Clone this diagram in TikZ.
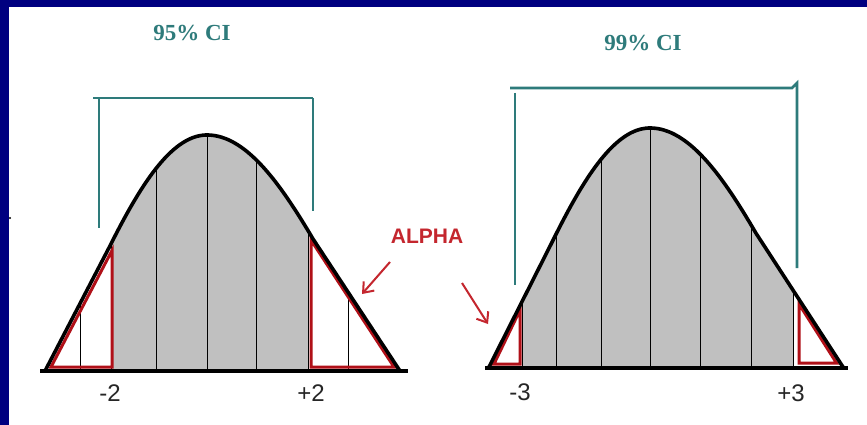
\documentclass[tikz,border=0pt]{standalone}
\usepackage{fontspec}
\setmainfont{Liberation Serif}
\newfontfamily\arialfont{Liberation Sans}
\usetikzlibrary{arrows.meta}
\definecolor{navyband}{HTML}{000080}
\definecolor{citeal}{HTML}{2E7B7B}
\definecolor{tailred}{HTML}{B01018}
\definecolor{alphared}{HTML}{C4262E}
\definecolor{bellgray}{HTML}{C0C0C0}
\tikzset{
  bell/.style={line width=3.6pt, black, line join=round},
  axisline/.style={line width=3.6pt, black},
  slice/.style={line width=1pt, black},
  tailbox/.style={line width=3pt, tailred, line join=miter},
  bracket/.style={line width=2.6pt, citeal, line join=miter},
  cilabel/.style={font=\bfseries\fontsize{23}{23}\selectfont, text=citeal, inner sep=0pt},
  zlabel/.style={font=\arialfont\fontsize{24}{24}\selectfont, text=black!85, inner sep=0pt},
  alphalabel/.style={font=\arialfont\bfseries\fontsize{21}{21}\selectfont, text=alphared, inner sep=0pt},
  alphaarrow/.style={line width=2pt, alphared, -{Straight Barb[length=9pt,width=14pt,line width=2pt]}},
  halfplot/.style={samples=60, variable=\u, smooth}
}
\begin{document}
\begin{tikzpicture}[x=1pt,y=-1pt]
\useasboundingbox (0,0) rectangle (867,425);
\fill[white] (0,0) rectangle (867,425);
\fill[navyband] (0,0) rectangle (867,7.5);
\fill[navyband] (0,0) rectangle (8.5,425);
\fill[black] (10,218) circle (1.2);

% ---------- left curve (95%) ----------
\path[save path=\lcurve] (45,371)
  -- plot[halfplot, domain=-0.6:0] ({207+162*\u},{371-236*pow(cos(90*\u),1.2)})
  -- plot[halfplot, domain=0:0.55] ({207+193*\u},{371-236*pow(cos(90*\u),1.35)})
  -- (400,371) -- cycle;
\begin{scope}
  \clip[use path=\lcurve];
  \fill[bellgray] (111,100) rectangle (308,371);
  \foreach \xx in {80,111,156,207,256,308,348} \draw[slice] (\xx,100) -- (\xx,371);
\end{scope}
\draw[tailbox] (51,367) -- (112,250.5) -- (112,367) -- cycle;
\draw[tailbox] (311,240) -- (311,367) -- (394,367) -- cycle;
\draw[bell] (45,371)
  -- plot[halfplot, domain=-0.6:0] ({207+162*\u},{371-236*pow(cos(90*\u),1.2)})
  -- plot[halfplot, domain=0:0.55] ({207+193*\u},{371-236*pow(cos(90*\u),1.35)})
  -- (400,371);
\draw[axisline] (40,371) -- (408,371);

\coordinate (b1l) at (99,228);
\coordinate (b1r) at (313,211);
\draw[bracket] (93,98) -- (313,98);
\draw[bracket] (99,98) -- (b1l);
\draw[bracket] (313,98) -- (b1r);

\node[cilabel] (ci95) at (192,33) {95\% CI};
\node[zlabel] (zm2) at (110,393) {-2};
\node[zlabel] (zp2) at (311,393) {+2};

% ---------- right curve (99%) ----------
\path[save path=\rcurve] (489,367)
  -- plot[halfplot, domain=-0.6:0] ({650+162*\u},{367-239*pow(cos(90*\u),1.2)})
  -- plot[halfplot, domain=0:0.55] ({650+193*\u},{367-239*pow(cos(90*\u),1.35)})
  -- (843,367) -- cycle;
\begin{scope}
  \clip[use path=\rcurve];
  \fill[bellgray] (522,100) rectangle (793,367);
  \foreach \xx in {522,556,601,650,700,751,793} \draw[slice] (\xx,100) -- (\xx,367);
\end{scope}
\draw[tailbox] (494,364) -- (520,310) -- (520,364) -- cycle;
\draw[tailbox] (799,304) -- (799,363) -- (836.5,363) -- cycle;
\draw[bell] (489,367)
  -- plot[halfplot, domain=-0.6:0] ({650+162*\u},{367-239*pow(cos(90*\u),1.2)})
  -- plot[halfplot, domain=0:0.55] ({650+193*\u},{367-239*pow(cos(90*\u),1.35)})
  -- (843,367);
\draw[axisline] (485,368) -- (848,368);

\coordinate (b2l) at (515,285);
\coordinate (b2r) at (797,268);
\draw[bracket] (510,88) -- (792,88) -- (797,83) -- (b2r);
\draw[bracket] (515,93) -- (b2l);

\node[cilabel] (ci99) at (643,43) {99\% CI};
\node[zlabel] (zm3) at (520,392) {-3};
\node[zlabel] (zp3) at (791,393) {+3};

% ---------- ALPHA ----------
\node[alphalabel] (alpha) at (427,236) {ALPHA};
\coordinate (a1s) at (390,262);
\coordinate (a1e) at (362,294);
\coordinate (a2s) at (462,283);
\coordinate (a2e) at (488,324);
\draw[alphaarrow] (a1s) -- (a1e);
\draw[alphaarrow] (a2s) -- (a2e);
\end{tikzpicture}
\end{document}
